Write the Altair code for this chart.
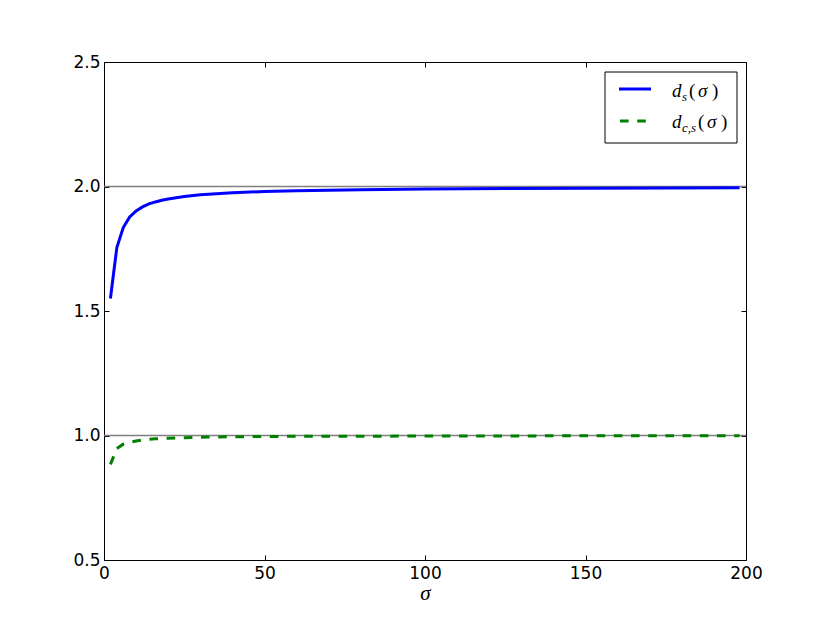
import altair as alt
import pandas as pd

# ---- data ----
sigma = [2, 4, 6, 8, 10, 12, 14, 16, 18, 20, 25, 30, 40, 50, 60, 80, 100, 125, 150, 175, 198]
ds = [1.55, 1.755, 1.835, 1.878, 1.902, 1.918, 1.930, 1.938, 1.945, 1.950, 1.960, 1.967,
      1.975, 1.980, 1.983, 1.987, 1.990, 1.992, 1.993, 1.994, 1.995]
dcs = [0.884, 0.948, 0.965, 0.973, 0.978, 0.982, 0.985, 0.987, 0.988, 0.989, 0.991, 0.993,
       0.995, 0.996, 0.997, 0.997, 0.998, 0.998, 0.999, 0.999, 0.999]
x_ticks = [0, 50, 100, 150, 200]
y_ticks = [0.5, 1.0, 1.5, 2.0, 2.5]
hlines = [1.0, 2.0]

W, H = 642, 498

df = pd.DataFrame({"sigma": sigma, "ds": ds, "dcs": dcs})
hdf = pd.DataFrame({"h": hlines})
one = pd.DataFrame({"a": [0]})

xs = alt.Scale(domain=[0, 200], nice=False, zero=False)
ys = alt.Scale(domain=[0.5, 2.5], nice=False, zero=False)

common = dict(domain=False, grid=False, ticks=True, tickSize=5, tickColor="black",
              tickWidth=1, offset=-5, labelFont="DejaVu Sans", labelFontSize=17,
              labelColor="black", labelFlush=False, labelOverlap=False)

x_bottom = alt.Axis(orient="bottom", values=x_ticks, format="d", labelPadding=5,
                    title="σ", titleFont="Liberation Serif", titleFontStyle="italic",
                    titleFontWeight="normal", titleFontSize=21, titlePadding=1,
                    titleColor="black", **common)
y_left = alt.Axis(orient="left", values=y_ticks, format=".1f", labelPadding=4,
                  title=None, **common)
x_top = alt.Axis(orient="top", values=x_ticks, labels=False, title=None, **common)
y_right = alt.Axis(orient="right", values=y_ticks, labels=False, title=None, **common)

hl = alt.Chart(hdf).mark_rule(color="#808080", strokeWidth=1.3).encode(
    y=alt.Y("h:Q", scale=ys, axis=None))

blue = alt.Chart(df).mark_line(color="#0000ff", strokeWidth=3).encode(
    x=alt.X("sigma:Q", scale=xs, axis=x_bottom),
    y=alt.Y("ds:Q", scale=ys, axis=y_left))

green = alt.Chart(df).mark_line(color="#008000", strokeWidth=3, strokeDash=[8.6, 8.6]).encode(
    x=alt.X("sigma:Q", scale=xs, axis=None),
    y=alt.Y("dcs:Q", scale=ys, axis=None))

mirror = alt.Chart(df).mark_line(opacity=0).encode(
    x=alt.X("sigma:Q", scale=xs, axis=x_top),
    y=alt.Y("ds:Q", scale=ys, axis=y_right))

# ---- legend ----
box = alt.Chart(one).mark_rect(fill="white", stroke="black", strokeWidth=1).encode(
    x=alt.value(501), x2=alt.value(633), y=alt.value(10), y2=alt.value(81))
lb = alt.Chart(one).mark_rule(color="#0000ff", strokeWidth=3).encode(
    x=alt.value(515), x2=alt.value(547), y=alt.value(27))
lg = alt.Chart(one).mark_rule(color="#008000", strokeWidth=3, strokeDash=[8.6, 8.6]).encode(
    x=alt.value(516), x2=alt.value(547), y=alt.value(59))

def txt(s, x, y, size=19, style="italic"):
    return alt.Chart(one).mark_text(text=s, font="Liberation Serif", fontStyle=style,
                                    fontSize=size, align="left", baseline="alphabetic",
                                    color="black").encode(x=alt.value(x), y=alt.value(y))

legend_layers = [
    box, lb, lg,
    txt("d", 568, 35), txt("s", 578, 39, size=13),
    txt("(", 585, 35, style="normal"), txt("σ", 594, 35), txt(")", 608, 35, style="normal"),
    txt("d", 568, 66), txt("c,s", 578, 70, size=13),
    txt("(", 594, 66, style="normal"), txt("σ", 603, 66), txt(")", 617, 66, style="normal"),
]

chart = alt.layer(hl, blue, green, mirror, *legend_layers).resolve_axis(
    x="independent", y="independent"
).properties(
    width=W, height=H,
    autosize=alt.AutoSizeParams(type="none"),
    padding={"left": 96, "top": 54, "right": 76, "bottom": 55},
    background="white",
).configure_view(stroke="black", strokeWidth=1)

chart.save("out.html", embed_options={"renderer": "svg", "actions": False})
